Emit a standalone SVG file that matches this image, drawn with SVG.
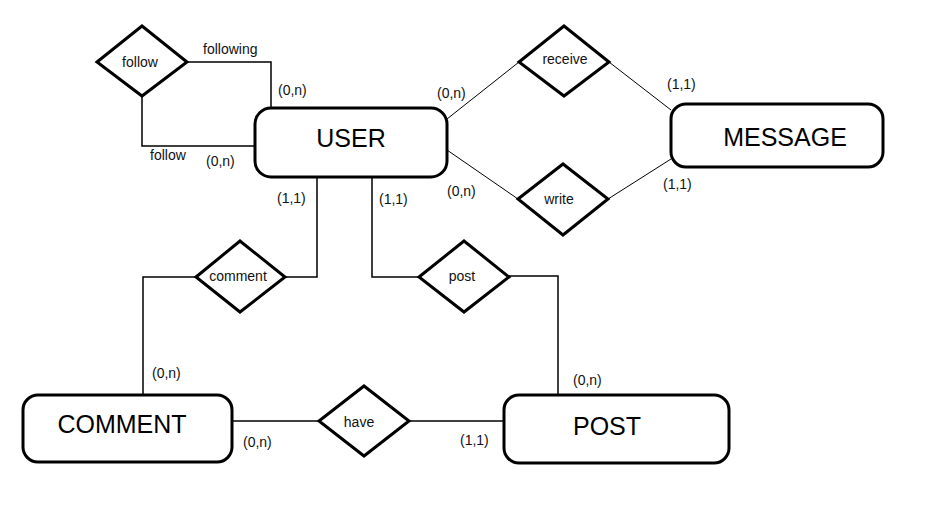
<svg xmlns="http://www.w3.org/2000/svg" width="933" height="509" viewBox="0 0 933 509">
<style>
.ent{fill:#fff;stroke:#000;stroke-width:3}
.rel{fill:#fff;stroke:#000;stroke-width:3}
.ln{fill:none;stroke:#000;stroke-width:1.5}
.dl{fill:none;stroke:#000;stroke-width:1}
.big{font-family:"Liberation Sans",Arial,sans-serif;font-size:25px;fill:#000;text-anchor:middle}
.sm{font-family:"Liberation Sans",Arial,sans-serif;font-size:14px;fill:#111}
.mid{text-anchor:middle}
</style>
<rect width="933" height="509" fill="#fff"/>
<g id="connectors">
<polyline class="ln" points="187,62 271,62 271,108"/>
<polyline class="ln" points="142,96 142,146 255,146"/>
<line class="dl" x1="447" y1="119" x2="519" y2="62"/>
<line class="dl" x1="609" y1="62" x2="671" y2="110"/>
<line class="dl" x1="447" y1="150" x2="518" y2="199"/>
<line class="dl" x1="608" y1="199" x2="671" y2="159"/>
<polyline class="ln" points="317,177 317,277 285,277"/>
<polyline class="ln" points="196,277 143,277 143,395"/>
<polyline class="ln" points="372,177 372,277 419,277"/>
<polyline class="ln" points="509,276 558,276 558,395"/>
<line class="ln" x1="232" y1="421" x2="319" y2="421"/>
<line class="ln" x1="409" y1="421" x2="504" y2="421"/>
</g>
<g id="user"><rect class="ent" x="255" y="108" width="192" height="69" rx="16"/><text class="big" x="351" y="147">USER</text></g>
<g id="message"><rect class="ent" x="671" y="104" width="212" height="63" rx="15"/><text class="big" x="785" y="146">MESSAGE</text></g>
<g id="comment-entity"><rect class="ent" x="23" y="395" width="209" height="67" rx="15"/><text class="big" x="122" y="433">COMMENT</text></g>
<g id="post-entity"><rect class="ent" x="504" y="395" width="225" height="68" rx="15"/><text class="big" x="607" y="435">POST</text></g>
<g id="follow-rel"><polygon class="rel" points="97,62 142,26 187,62 142,96"/><text class="sm mid" x="140" y="67">follow</text></g>
<g id="receive-rel"><polygon class="rel" points="519,62 564,26 609,62 564,96"/><text class="sm mid" x="565" y="64">receive</text></g>
<g id="write-rel"><polygon class="rel" points="518,199 563,164 608,199 563,235"/><text class="sm mid" x="559" y="204">write</text></g>
<g id="comment-rel"><polygon class="rel" points="196,277 240,241 285,277 240,312"/><text class="sm mid" x="238" y="281">comment</text></g>
<g id="post-rel"><polygon class="rel" points="419,277 464,241 509,277 464,312"/><text class="sm mid" x="462" y="281">post</text></g>
<g id="have-rel"><polygon class="rel" points="319,421 364,386 409,421 364,456"/><text class="sm mid" x="359" y="427">have</text></g>
<g id="labels">
<text class="sm" x="203" y="54">following</text>
<text class="sm" x="278" y="95">(0,n)</text>
<text class="sm" x="150" y="160">follow</text>
<text class="sm" x="206" y="166">(0,n)</text>
<text class="sm" x="437" y="98">(0,n)</text>
<text class="sm" x="667" y="89">(1,1)</text>
<text class="sm" x="447" y="196">(0,n)</text>
<text class="sm" x="663" y="189">(1,1)</text>
<text class="sm" x="277" y="203">(1,1)</text>
<text class="sm" x="379" y="204">(1,1)</text>
<text class="sm" x="152" y="378">(0,n)</text>
<text class="sm" x="573" y="385">(0,n)</text>
<text class="sm" x="243" y="447">(0,n)</text>
<text class="sm" x="460" y="445">(1,1)</text>
</g>
</svg>
